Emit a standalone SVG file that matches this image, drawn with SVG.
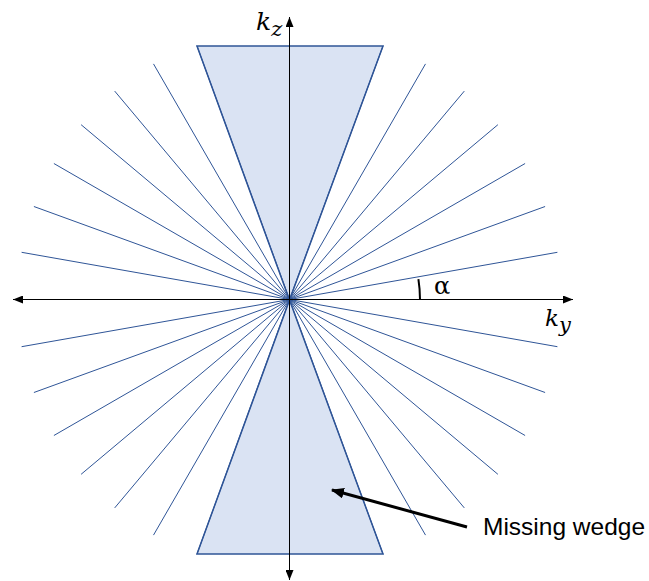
<svg xmlns="http://www.w3.org/2000/svg" width="649" height="581" viewBox="0 0 649 581">
<style>
.ray{stroke:#2F5597;stroke-width:1;fill:none}
.wedge{fill:#DAE3F3;stroke:#2F5597;stroke-width:1.5;stroke-linejoin:miter}
.axis{stroke:#000;stroke-width:1;fill:none}
.math{font-family:"DejaVu Serif","Liberation Serif",serif;font-style:italic;fill:#000}
.label{font-family:"Liberation Sans",Arial,sans-serif;font-size:24.5px;fill:#000}
</style>
<defs>
<marker id="ah" viewBox="0 0 10 8" refX="10" refY="4" markerWidth="10" markerHeight="8" markerUnits="userSpaceOnUse" orient="auto">
<path d="M0,0 L10,4 L0,8 Z" fill="#000"/>
</marker>
<marker id="ahBig" viewBox="0 0 12 10" refX="11" refY="5" markerWidth="13" markerHeight="11" markerUnits="userSpaceOnUse" orient="auto">
<path d="M0,0 L12,5 L0,10 Z" fill="#000"/>
</marker>
</defs>
<g id="wedge-top"><polygon class="wedge" points="197,46 383,46 289.5,300"/></g>
<g id="wedge-bottom"><polygon class="wedge" points="197,554 383,554 289.5,300"/></g>
<g id="connectors">
<g id="rays">
<line class="ray" x1="289.5" y1="299.5" x2="557.4" y2="252.3"/>
<line class="ray" x1="289.5" y1="299.5" x2="545.1" y2="206.5"/>
<line class="ray" x1="289.5" y1="299.5" x2="525.1" y2="163.5"/>
<line class="ray" x1="289.5" y1="299.5" x2="497.9" y2="124.7"/>
<line class="ray" x1="289.5" y1="299.5" x2="464.3" y2="91.1"/>
<line class="ray" x1="289.5" y1="299.5" x2="425.5" y2="63.9"/>
<line class="ray" x1="289.5" y1="299.5" x2="383" y2="46"/>
<line class="ray" x1="289.5" y1="299.5" x2="557.4" y2="346.7"/>
<line class="ray" x1="289.5" y1="299.5" x2="545.1" y2="392.5"/>
<line class="ray" x1="289.5" y1="299.5" x2="525.1" y2="435.5"/>
<line class="ray" x1="289.5" y1="299.5" x2="497.9" y2="474.3"/>
<line class="ray" x1="289.5" y1="299.5" x2="464.3" y2="507.9"/>
<line class="ray" x1="289.5" y1="299.5" x2="425.5" y2="535.1"/>
<line class="ray" x1="289.5" y1="299.5" x2="383" y2="554"/>
<line class="ray" x1="289.5" y1="299.5" x2="21.6" y2="252.3"/>
<line class="ray" x1="289.5" y1="299.5" x2="33.9" y2="206.5"/>
<line class="ray" x1="289.5" y1="299.5" x2="53.9" y2="163.5"/>
<line class="ray" x1="289.5" y1="299.5" x2="81.1" y2="124.7"/>
<line class="ray" x1="289.5" y1="299.5" x2="114.7" y2="91.1"/>
<line class="ray" x1="289.5" y1="299.5" x2="153.5" y2="63.9"/>
<line class="ray" x1="289.5" y1="299.5" x2="197" y2="46"/>
<line class="ray" x1="289.5" y1="299.5" x2="21.6" y2="346.7"/>
<line class="ray" x1="289.5" y1="299.5" x2="33.9" y2="392.5"/>
<line class="ray" x1="289.5" y1="299.5" x2="53.9" y2="435.5"/>
<line class="ray" x1="289.5" y1="299.5" x2="81.1" y2="474.3"/>
<line class="ray" x1="289.5" y1="299.5" x2="114.7" y2="507.9"/>
<line class="ray" x1="289.5" y1="299.5" x2="153.5" y2="535.1"/>
<line class="ray" x1="289.5" y1="299.5" x2="197" y2="554"/>
</g>
<g id="axes">
<line class="axis" x1="289.5" y1="299.5" x2="573" y2="299.5" marker-end="url(#ah)"/>
<line class="axis" x1="289.5" y1="299.5" x2="13" y2="299.5" marker-end="url(#ah)"/>
<line class="axis" x1="289.5" y1="299.5" x2="289.5" y2="17" marker-end="url(#ah)"/>
<line class="axis" x1="289.5" y1="299.5" x2="289.5" y2="580" marker-end="url(#ah)"/>
</g>
<path id="angle-arc" d="M420,299.5 A130.5,130.5 0 0 0 418.4,279.1" fill="none" stroke="#000" stroke-width="2"/>
<line id="pointer" x1="467" y1="527" x2="332" y2="490" stroke="#000" stroke-width="3" marker-end="url(#ahBig)"/>
</g>
<g id="labels">
<text class="math" x="256" y="30" font-size="25">k<tspan font-size="21" dy="5.5">z</tspan></text>
<text class="math" x="545" y="325.5" font-size="23">k<tspan font-size="21" dy="6">y</tspan></text>
<text x="434" y="293.5" font-family="DejaVu Serif,Liberation Serif,serif" font-size="24">α</text>
<text class="label" x="483" y="535">Missing wedge</text>
</g>
</svg>
